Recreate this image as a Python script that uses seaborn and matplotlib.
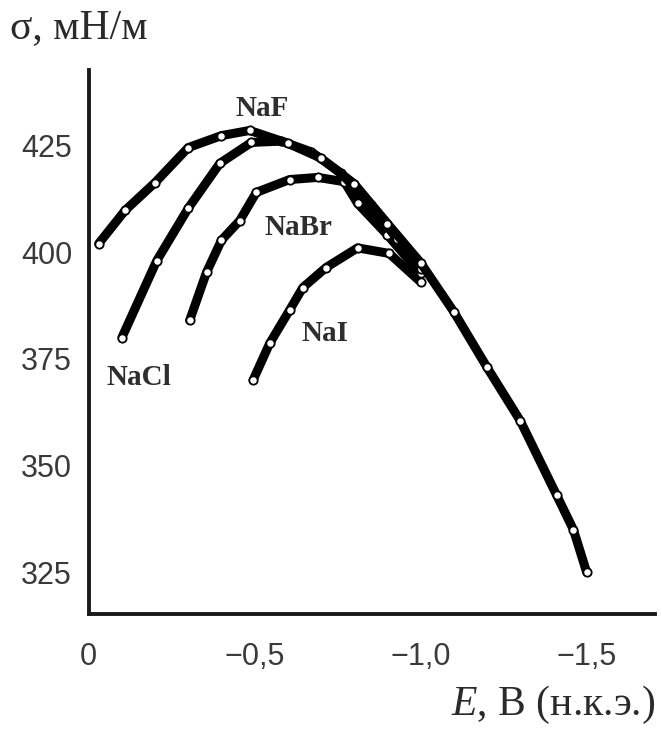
import numpy as np
import pandas as pd
import matplotlib
matplotlib.use("Agg")
import matplotlib.pyplot as plt
import seaborn as sns

# data (E in V vs. n.c.e., sigma in mN/m)
naf_E = [-0.03, -0.11, -0.2, -0.3, -0.4, -0.485, -0.6, -0.7, -0.8, -0.9, -1.0, -1.1, -1.2, -1.3, -1.41, -1.46, -1.5]
naf_s = [402, 409.8, 416.3, 424.5, 427.3, 428.5, 425.5, 422, 416, 406.7, 397.5, 386, 373, 360.5, 343, 335, 325]

nacl_E = [-0.1, -0.205, -0.3, -0.395, -0.49, -0.58, -0.67, -0.76, -0.85, -0.93, -1.0]
nacl_s = [380, 398, 410.3, 420.8, 425.7, 426, 423.5, 418.5, 411, 403, 396]

nabr_E = [-0.304, -0.355, -0.4, -0.455, -0.505, -0.605, -0.69, -0.77, -0.81, -0.9, -1.0]
nabr_s = [384, 395.3, 402.8, 407.4, 414, 417, 417.5, 416.5, 411.4, 404, 395]

nai_E = [-0.495, -0.545, -0.605, -0.645, -0.715, -0.81, -0.905, -1.0]
nai_s = [370, 378.6, 386.4, 391.7, 396.4, 401, 399.7, 393]

df = pd.concat([
    pd.DataFrame({"E": naf_E, "sigma": naf_s, "salt": "NaF"}),
    pd.DataFrame({"E": nacl_E, "sigma": nacl_s, "salt": "NaCl"}),
    pd.DataFrame({"E": nabr_E, "sigma": nabr_s, "salt": "NaBr"}),
    pd.DataFrame({"E": nai_E, "sigma": nai_s, "salt": "NaI"}),
])

sns.set_style("white")
plt.rcParams["font.family"] = ["Liberation Sans", "DejaVu Sans"]
plt.rcParams["mathtext.fontset"] = "custom"
plt.rcParams["mathtext.it"] = "Liberation Serif:italic"
plt.rcParams["mathtext.rm"] = "Liberation Serif"

fig = plt.figure(figsize=(6.62, 7.32), dpi=100)
ax = fig.add_axes([0.134, 0.161, 0.855, 0.743])

# thick black curves with small open markers
for s in ["NaI", "NaBr", "NaCl", "NaF"]:
    sns.lineplot(data=df[df["salt"] == s], x="E", y="sigma", ax=ax,
                 color="black", lw=6.5, marker="o", markersize=6,
                 markerfacecolor="white", markeredgecolor="black",
                 markeredgewidth=1.3, sort=False, legend=False)

ax.set_xlim(0.0, -1.705)
ax.set_ylim(315.2, 442.6)

ax.set_xticks([0, -0.5, -1.0, -1.5])
ax.set_xticklabels(["0", "\u22120,5", "\u22121,0", "\u22121,5"])
ax.set_yticks([325, 350, 375, 400, 425])
ax.tick_params(axis="x", direction="in", length=17, width=2.5, pad=20,
               labelsize=22, labelcolor="#3a3a3a", color="#222222")
ax.tick_params(axis="y", direction="in", length=11, width=2.5, pad=12,
               labelsize=22, labelcolor="#3a3a3a", color="#222222")
ax.xaxis.get_major_ticks()[0].tick1line.set_visible(False)

sns.despine(ax=ax)
for side in ["left", "bottom"]:
    ax.spines[side].set_linewidth(2.8)
    ax.spines[side].set_color("#1a1a1a")

ax.set_xlabel("")
ax.set_ylabel("")

# curve labels
lab = dict(fontsize=21, fontweight="bold", color="#2e2e2e",
           family=["Liberation Serif", "DejaVu Serif"])
ax.text(-0.524, 432, "NaF", ha="center", va="baseline", **lab)
ax.text(-0.53, 405.8, "NaBr", ha="left", va="center", **lab)
ax.text(-0.642, 381, "NaI", ha="left", va="center", **lab)
ax.text(-0.054, 370.7, "NaCl", ha="left", va="center", **lab)

# axis titles
fig.text(0.015, 0.935, "\u03c3, мН/м", fontsize=30, color="#2a2a2a",
         ha="left", va="bottom", family=["Liberation Serif", "DejaVu Serif"])
fig.text(0.99, 0.037, r"$E$, В (н.к.э.)", fontsize=30, color="#2a2a2a",
         ha="right", va="center", family=["Liberation Serif", "DejaVu Serif"])

fig.savefig("out.png", dpi=100)
